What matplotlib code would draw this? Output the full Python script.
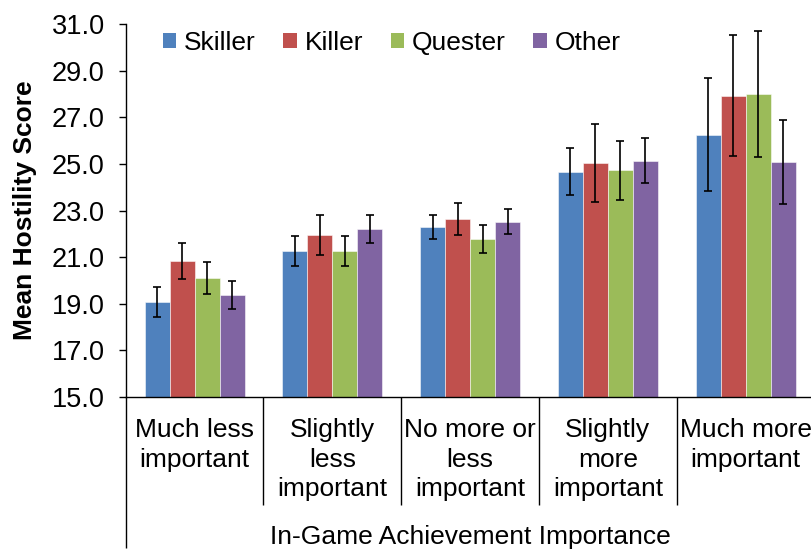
import numpy as np
import matplotlib.pyplot as plt
from matplotlib.patches import Patch

plt.rcParams['font.family'] = ['Liberation Sans', 'DejaVu Sans']

categories = ["Much less\nimportant", "Slightly\nless\nimportant",
              "No more or\nless\nimportant", "Slightly\nmore\nimportant",
              "Much more\nimportant"]
series = ["Skiller", "Killer", "Quester", "Other"]
colors = ["#4F81BD", "#C0504D", "#9BBB59", "#8064A2"]

skiller = [19.08, 21.26, 22.29, 24.67, 26.25]
killer = [20.83, 21.96, 22.64, 25.05, 27.93]
quester = [20.12, 21.26, 21.76, 24.72, 27.98]
other = [19.38, 22.19, 22.52, 25.14, 25.08]

skiller_err = [0.65, 0.64, 0.52, 1.00, 2.42]
killer_err = [0.77, 0.85, 0.70, 1.68, 2.60]
quester_err = [0.69, 0.66, 0.60, 1.28, 2.70]
other_err = [0.60, 0.60, 0.53, 0.95, 1.80]

means = [skiller, killer, quester, other]
errs = [skiller_err, killer_err, quester_err, other_err]

fig = plt.figure(figsize=(8.12, 5.51), dpi=100)
ax = fig.add_axes([0.1548, 0.2795, 0.8483, 0.6769])

x = np.arange(len(categories))
w = 0.1815
for i, (vals, err, c) in enumerate(zip(means, errs, colors)):
    pos = x + (i - 1.5) * w
    ax.bar(pos, np.array(vals) - 15.0, width=w, bottom=15.0, color=c,
           edgecolor=(1, 1, 1, 0.6), linewidth=0.6, zorder=2)
    ax.errorbar(pos, vals, yerr=err, fmt='none', ecolor='black',
                elinewidth=1.2, capsize=2.7, capthick=1.2, zorder=3)

ax.set_xlim(-0.5, len(categories) - 0.5)
ax.set_ylim(15, 31)
ax.set_yticks(np.arange(15, 31.1, 2))
ax.set_yticklabels([f"{v:.1f}" for v in np.arange(15, 31.1, 2)])
ax.tick_params(axis='y', direction='out', length=5, width=1, pad=10,
               labelsize=19.5)

ax.set_xticks(x)
ax.set_xticklabels(categories, fontsize=19, linespacing=1.3)
ax.tick_params(axis='x', length=0, pad=15)

for s in ['top', 'right']:
    ax.spines[s].set_visible(False)
ax.spines['left'].set_linewidth(1)
ax.spines['bottom'].set_linewidth(1)

# category separators hanging below the axis
trans = ax.get_xaxis_transform()
ax.vlines(x[1:] - 0.5, -0.29, 0, transform=trans, colors='black',
          linewidth=1, clip_on=False)
ax.vlines([-0.5], -0.405, 0, transform=trans, colors='black',
          linewidth=1, clip_on=False)

ax.set_xlabel("In-Game Achievement Importance", fontsize=19)
ax.xaxis.set_label_coords(0.5, -0.375)
ax.xaxis.label.set_va('center')

ax.set_ylabel("Mean Hostility Score", fontsize=19, fontweight='bold')
ax.yaxis.set_label_coords(-0.146, 0.5)
ax.yaxis.label.set_va('center')

handles = [Patch(facecolor=c, edgecolor='none') for c in colors]
ax.legend(handles, series, loc='center left', bbox_to_anchor=(0.054, 0.949),
          ncol=4, frameon=False, fontsize=19, handlelength=0.5,
          handleheight=0.5, handletextpad=0.3, columnspacing=1.05,
          borderpad=0, borderaxespad=0)

fig.savefig("out.png", dpi=100)
